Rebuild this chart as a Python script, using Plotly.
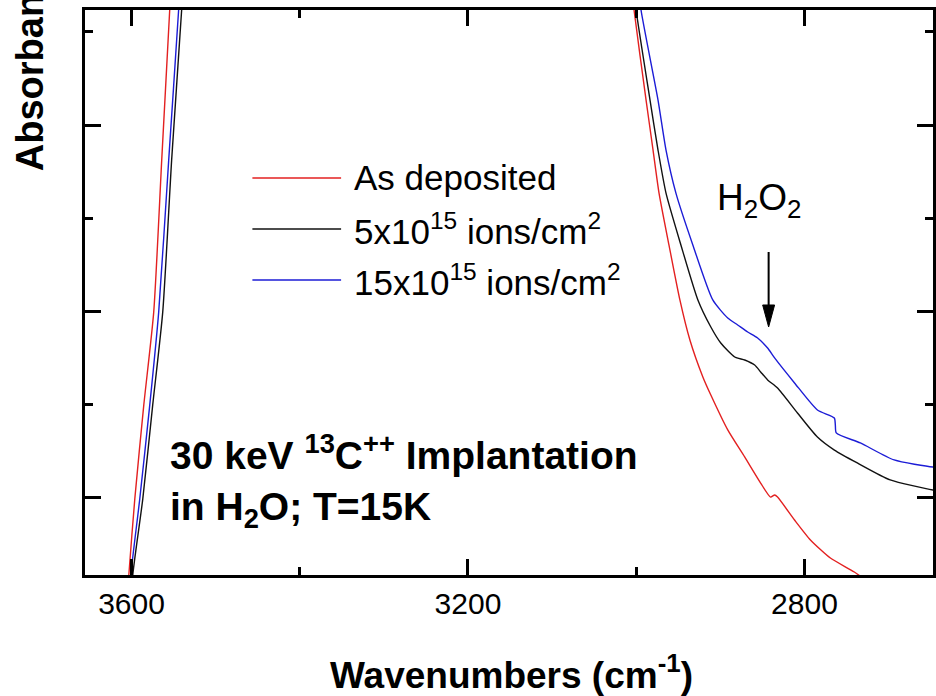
import plotly.graph_objects as go

# ---------------- data ----------------
series_names = ["As deposited",
                "5x10<sup>15</sup> ions/cm<sup>2</sup>",
                "15x10<sup>15</sup> ions/cm<sup>2</sup>"]
series_colors = ["#e32020", "#111111", "#1c1cd6"]

wn_asdep = [3605.0, 3603.2, 3596.1, 3585.4, 3573.6, 3564.1, 3554.6, 3553.4,
            3004.9, 3002.6, 2988.3, 2980.0, 2972.9, 2961.1, 2948.1, 2936.2,
            2920.8, 2911.3, 2891.2, 2871.1, 2852.1, 2840.3, 2835.5, 2832.0,
            2811.8, 2792.9, 2769.2, 2740.7, 2719.4]
abs_asdep = [0.0453, 0.0587, 0.0995, 0.1499, 0.1997, 0.2812, 0.3617, 0.3724,
             0.3724, 0.3617, 0.3134, 0.2866, 0.2635, 0.2357, 0.2062, 0.1847,
             0.1649, 0.1552, 0.1365, 0.1220, 0.1080, 0.1005, 0.1016, 0.1005,
             0.0882, 0.0775, 0.0678, 0.0603, 0.0534]

wn_5e15 = [3599.6, 3598.5, 3586.6, 3574.8, 3562.9, 3552.3, 3540.4, 3539.2,
           3002.6, 3000.2, 2983.6, 2974.1, 2964.6, 2946.9, 2926.7, 2911.3, 2899.5,
           2882.9, 2871.0, 2859.2, 2852.1, 2843.8, 2832.0, 2808.3, 2784.6, 2764.4,
           2737.2, 2698.1, 2647.2, 2636.5]
abs_5e15 = [0.0453, 0.0587, 0.0995, 0.1499, 0.1997, 0.2812, 0.3617, 0.3724,
            0.3724, 0.3617, 0.3134, 0.2866, 0.2635, 0.2357, 0.2062, 0.1917, 0.1831,
            0.1756, 0.1740, 0.1713, 0.1676, 0.1633, 0.1590, 0.1456, 0.1327, 0.1257,
            0.1188, 0.1097, 0.1043, 0.1038]

wn_15e15 = [3602.0, 3600.8, 3590.2, 3578.3, 3567.7, 3555.8, 3544.0, 3542.8,
            2996.6, 2994.3, 2974.1, 2964.6, 2952.8, 2932.7, 2909.0, 2891.2, 2879.4,
            2867.5, 2855.7, 2843.8, 2835.5, 2811.8, 2784.6, 2764.5, 2763.3, 2762.2,
            2733.6, 2693.4, 2647.2, 2636.5]
abs_15e15 = [0.0453, 0.0587, 0.0995, 0.1499, 0.1997, 0.2812, 0.3617, 0.3724,
             0.3724, 0.3617, 0.3134, 0.2866, 0.2635, 0.2357, 0.2062, 0.1965, 0.1928,
             0.1890, 0.1858, 0.1804, 0.1751, 0.1617, 0.1472, 0.1429, 0.1391, 0.1349,
             0.1295, 0.1204, 0.1166, 0.1166]

x_tick0, x_dtick, x_minor = 2800, 400, 200
y_dtick, y_minor = 0.1, 0.05
x_range = [3655.3, 2647.2]
y_range = [0.0587, 0.3617]

h2o2_wn, h2o2_abs = 2842.6, 0.1917   # arrow tip position

# ---------------- figure ----------------
FONT = "Arial, Liberation Sans, sans-serif"
fig = go.Figure()
for wn, ab, name, col in zip([wn_asdep, wn_5e15, wn_15e15],
                             [abs_asdep, abs_5e15, abs_15e15],
                             series_names, series_colors):
    fig.add_trace(go.Scatter(x=wn, y=ab, mode="lines", name=name,
                             line=dict(color=col, width=1.4, shape="spline",
                                       smoothing=0.6),
                             showlegend=False))

# custom legend (long line samples)
leg_y = [0.7027, 0.6124, 0.5221]
for name, col, yy in zip(series_names, series_colors, leg_y):
    fig.add_shape(type="line", xref="paper", yref="paper",
                  x0=0.1974, x1=0.302, y0=yy, y1=yy,
                  line=dict(color=col, width=1.4))
    fig.add_annotation(xref="paper", yref="paper", x=0.3149, y=yy,
                       xanchor="left", yanchor="middle", showarrow=False,
                       text=name, font=dict(family=FONT, size=35, color="black"))

# H2O2 label and arrow
fig.add_annotation(xref="paper", yref="paper", x=0.7944, y=0.6637,
                   xanchor="center", yanchor="middle", showarrow=False,
                   text="H<sub>2</sub>O<sub>2</sub>",
                   font=dict(family=FONT, size=37, color="black"))
fig.add_annotation(x=h2o2_wn, y=h2o2_abs + 0.011, ax=0, ay=-56,
                   showarrow=True, arrowhead=0, arrowwidth=2, arrowcolor="black",
                   text="")
fig.add_shape(type="path", xref="x", yref="y",
              path=f"M {h2o2_wn} {h2o2_abs} L {h2o2_wn-7.1} {h2o2_abs+0.0118} "
                   f"L {h2o2_wn+7.1} {h2o2_abs+0.0118} Z",
              fillcolor="black", line=dict(color="black", width=1))

# experiment note
fig.add_annotation(xref="paper", yref="paper", x=0.0975, y=0.1664,
                   xanchor="left", yanchor="middle", align="left", showarrow=False,
                   text="<b>30 keV <sup>13</sup>C<sup>++</sup> Implantation<br>"
                        "in H<sub>2</sub>O; T=15K</b>",
                   font=dict(family=FONT, size=39, color="black"))

# axis titles
fig.add_annotation(xref="paper", yref="paper", x=0.503, y=-0.172,
                   xanchor="center", yanchor="middle", showarrow=False,
                   text="<b>Wavenumbers (cm<sup>-1</sup>)</b>",
                   font=dict(family=FONT, size=37, color="black"))
fig.add_annotation(xref="paper", yref="paper", x=-0.0646, y=0.7115,
                   xanchor="center", yanchor="bottom", showarrow=False,
                   textangle=-90, text="<b>Absorbance</b>",
                   font=dict(family=FONT, size=38, color="black"))

axis_common = dict(showline=True, linecolor="black", linewidth=2.5,
                   mirror="ticks", ticks="inside", ticklen=16, tickwidth=2.5,
                   tickcolor="black", showgrid=False, zeroline=False)
fig.update_xaxes(range=x_range, autorange=False, tick0=x_tick0, dtick=x_dtick,
                 tickfont=dict(family=FONT, size=30, color="black"),
                 ticklabelstandoff=0,
                 minor=dict(dtick=x_minor, ticks="inside", ticklen=8,
                            tickwidth=2.5, tickcolor="black", showgrid=False),
                 **axis_common)
fig.update_yaxes(range=y_range, autorange=False, tick0=0, dtick=y_dtick,
                 showticklabels=False,
                 minor=dict(dtick=y_minor, ticks="inside", ticklen=8,
                            tickwidth=2.5, tickcolor="black", showgrid=False),
                 **axis_common)

fig.update_layout(width=936, height=696,
                  margin=dict(l=85, r=0, t=10, b=121, pad=0),
                  paper_bgcolor="white", plot_bgcolor="white",
                  showlegend=False)

fig.write_html("out.html")
